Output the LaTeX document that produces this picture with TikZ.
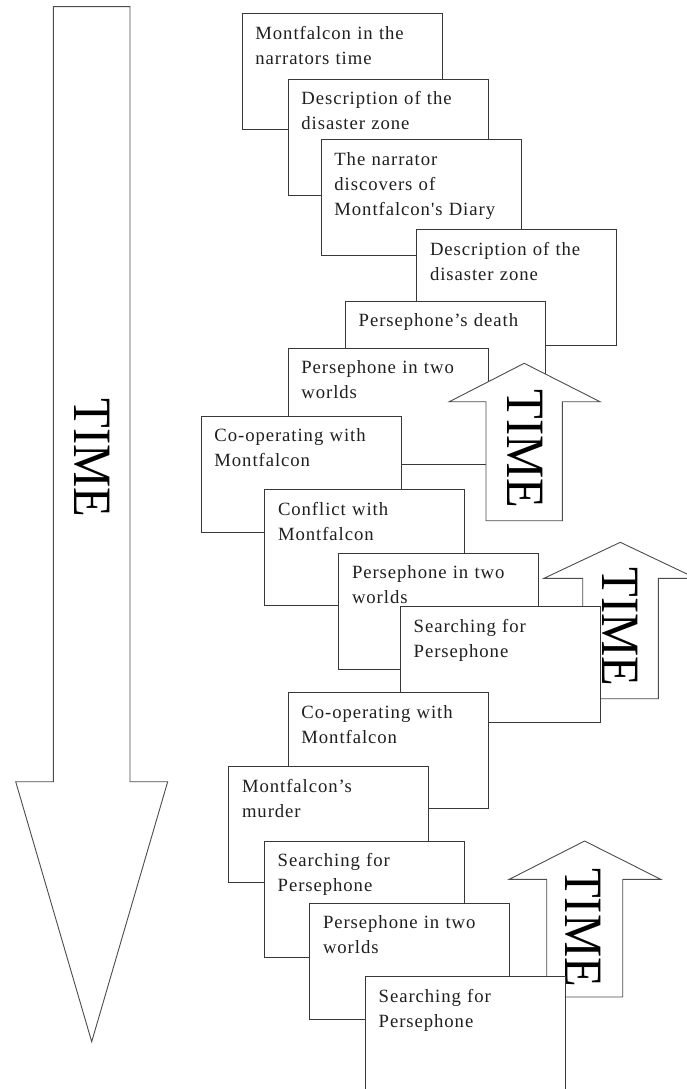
\documentclass[tikz,border=0pt]{standalone}
\usepackage{fontspec}
\setmainfont{Liberation Serif}
\newfontfamily\cardfont[LetterSpace=5]{Liberation Serif}
\begin{document}
\begin{tikzpicture}[x=1pt,y=-1pt,
  outline/.style={draw=black!78, line width=1.1pt, fill=white, line join=miter},
  arrowshape/.style={draw=black!70, line width=0.9pt, fill=white, line join=miter},
  card/.style={outline, anchor=north west, minimum width=200pt, minimum height=116pt, inner sep=0pt},
  cardtext/.style={anchor=base west, inner sep=0pt, text width=182pt, align=left,
    font=\cardfont\fontsize{18.7pt}{25pt}\selectfont, text=black!88},
  timetext/.style={rotate=-90, inner sep=0pt, font=\fontsize{54pt}{54pt}\selectfont, text=black}
]
\fill[white] (0,0) rectangle (686,1089);
\useasboundingbox (0,0) rectangle (686,1089);

% long time arrow pointing down
\draw[arrowshape] (53.3,6.7) -- (130,6.7) -- (130,781.7) -- (167.7,781.7)
  -- (91.7,1041.7) -- (15.7,781.7) -- (53.3,781.7) -- cycle;
\node[timetext] (bigtime) at (92.5,458) {\scalebox{0.9}[1]{TIME}};

% cascade of episodes
\node[card] (b1) at (241.7,13.3) {};
\node[cardtext] (t1) at ([shift={(13.5,26)}]b1.north west) {Montfalcon in the\\narrators time};
\node[card] (b2) at (287.7,79) {};
\node[cardtext] (t2) at ([shift={(13.5,26)}]b2.north west) {Description of the\\disaster zone};
\node[card] (b3) at (320.7,139.3) {};
\node[cardtext] (t3) at ([shift={(13.5,26)}]b3.north west) {The narrator\\discovers of\\Montfalcon's Diary};
\node[card] (b4) at (416.3,229) {};
\node[cardtext] (t4) at ([shift={(13.5,26)}]b4.north west) {Description of the\\disaster zone};
\node[card] (b5) at (345,300.7) {};
\node[cardtext] (t5) at ([shift={(13.5,26)}]b5.north west) {Persephone’s death};
\node[card] (b6) at (287.7,347.7) {};
\node[cardtext] (t6) at ([shift={(13.5,26)}]b6.north west) {Persephone in two\\worlds};

% first backward arrow
\draw[arrowshape] (486,520.7) -- (486,401.7) -- (449.3,401.7) -- (524.2,363.3)
  -- (600,401.7) -- (562.3,401.7) -- (562.3,520.7) -- cycle;
\node[timetext] (time1) at (525.3,449) {\scalebox{0.9}[1]{TIME}};

\node[card] (b7) at (200.7,415.7) {};
\node[cardtext] (t7) at ([shift={(13.5,26)}]b7.north west) {Co-operating with\\Montfalcon};
\node[card] (b8) at (264.3,489.3) {};
\node[cardtext] (t8) at ([shift={(13.5,26)}]b8.north west) {Conflict with\\Montfalcon};
\node[card] (b9) at (338.3,552.7) {};
\node[cardtext] (t9) at ([shift={(13.5,26)}]b9.north west) {Persephone in two\\worlds};

% second backward arrow
\draw[arrowshape] (582.7,698.7) -- (582.7,578.3) -- (544,578.3) -- (620.3,542.3)
  -- (696,578.3) -- (658.3,578.3) -- (658.3,698.7) -- cycle;
\node[timetext] (time2) at (620.5,627) {\scalebox{0.9}[1]{TIME}};

\node[card] (b10) at (400,606) {};
\node[cardtext] (t10) at ([shift={(13.5,26)}]b10.north west) {Searching for\\Persephone};
\node[card] (b11) at (287.7,692.3) {};
\node[cardtext] (t11) at ([shift={(13.5,26)}]b11.north west) {Co-operating with\\Montfalcon};
\node[card] (b12) at (228.3,766) {};
\node[cardtext] (t12) at ([shift={(13.5,26)}]b12.north west) {Montfalcon’s\\murder};
\node[card] (b13) at (264,840.7) {};
\node[cardtext] (t13) at ([shift={(13.5,26)}]b13.north west) {Searching for\\Persephone};
\node[card] (b14) at (309.3,902.7) {};
\node[cardtext] (t14) at ([shift={(13.5,26)}]b14.north west) {Persephone in two\\worlds};

% third backward arrow
\draw[arrowshape] (546.7,997) -- (546.7,879.3) -- (509.3,879.3) -- (584.6,841)
  -- (660.7,879.3) -- (622.7,879.3) -- (622.7,997) -- cycle;
\node[timetext] (time3) at (583.3,927.5) {\scalebox{0.9}[1]{TIME}};

\node[card] (b15) at (365,976) {};
\node[cardtext] (t15) at ([shift={(13.5,26)}]b15.north west) {Searching for\\Persephone};
\end{tikzpicture}
\end{document}
